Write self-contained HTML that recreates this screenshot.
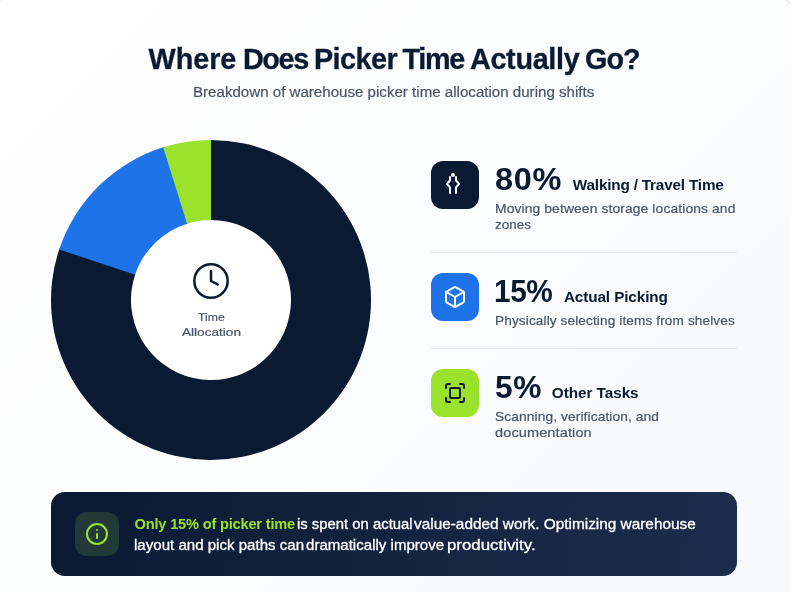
<!DOCTYPE html>
<html lang="en">
<head>
<meta charset="utf-8">
<title>Where Does Picker Time Actually Go?</title>
<style>
*{box-sizing:border-box;margin:0;padding:0}
html,body{width:791px;height:592px;overflow:hidden}
body{font-family:"Liberation Sans",sans-serif;background:linear-gradient(135deg,#ffffff 0%,#fcfdfe 45%,#f6f8fc 100%);position:relative;color:#0b1a33}
.donut{position:absolute;left:51px;top:140px}
.clock{position:absolute;left:191px;top:261px}
.ib{position:absolute;left:431px;width:48px;height:48px;border-radius:12px}
.ib svg{position:absolute;left:12px;top:12px}
.hr{position:absolute;left:431px;width:306px;height:1px;background:#e2e8f0}
.banner{position:absolute;left:51px;top:492px;width:686px;height:84px;border-radius:14px;background:linear-gradient(97deg,#0b1a33 0%,#1c2c4c 100%)}
.bi{position:absolute;left:24px;top:20px;width:44px;height:44px;border-radius:12px;background:#223a37}
.bi svg{position:absolute;left:10px;top:10px}
.t{position:absolute;white-space:nowrap;display:block;transform-origin:0 0}
</style>
</head>
<body>
<div style="position:absolute;left:694px;top:-3px;width:100px;height:100px;border-top:1px solid #dde3ee;border-right:1px solid #dde3ee;border-top-right-radius:16px"></div>
<div style="position:absolute;left:0;top:0;width:1px;height:1px;background:#e4e9f4"></div>

<svg class="donut" width="320" height="320" viewBox="0 0 320 320"><circle cx="160" cy="160" r="80.5" fill="#fff"/><path d="M160.00 0.00A160 160 0 1 1 8.72 107.91L84.36 133.95A80 80 0 1 0 160.00 80.00Z" fill="#0b1a33"/><path d="M8.18 109.50A160 160 0 0 1 113.75 6.83L136.88 83.41A80 80 0 0 0 84.09 134.75Z" fill="#1e73e8"/><path d="M112.15 7.32A160 160 0 0 1 160.00 0.00L160.00 80.00A80 80 0 0 0 136.08 83.66Z" fill="#9be22d"/></svg>
<svg class="clock" width="40" height="40" viewBox="0 0 24 24" fill="none" stroke="#0b1a33" stroke-width="1.5" stroke-linecap="round" stroke-linejoin="round"><circle cx="12" cy="12" r="10"/><path d="M12 6v6l4 2"/></svg>

<div class="ib" style="top:161px;background:#0b1a33">
  <svg width="24" height="24" viewBox="0 0 24 24" fill="none" stroke="#fff" stroke-width="2" stroke-linecap="round" stroke-linejoin="round"><circle cx="10" cy="2.1" r="1" fill="#fff"/><path d="M7 4.1v3.4l-3.1 3.4 3.1 3.4v5.6"/><path d="M13 4.1v3.4l3.1 3.4-3.1 3.4v5.6"/></svg>
</div>
<div class="hr" style="top:252px"></div>

<div class="ib" style="top:273px;background:#1e73e8">
  <svg width="24" height="24" viewBox="0 0 24 24" fill="none" stroke="#fff" stroke-width="2" stroke-linecap="round" stroke-linejoin="round"><path d="M21 8a2 2 0 0 0-1-1.73l-7-4a2 2 0 0 0-2 0l-7 4A2 2 0 0 0 3 8v8a2 2 0 0 0 1 1.73l7 4a2 2 0 0 0 2 0l7-4A2 2 0 0 0 21 16Z"/><path d="m3.3 7 8.7 5 8.7-5"/><path d="M12 22V12"/></svg>
</div>
<div class="hr" style="top:348px"></div>

<div class="ib" style="top:369px;background:#9be22d">
  <svg width="24" height="24" viewBox="0 0 24 24" fill="none" stroke="#0b1a33" stroke-width="2" stroke-linecap="round" stroke-linejoin="round"><path d="M3 7V5a2 2 0 0 1 2-2h2"/><path d="M17 3h2a2 2 0 0 1 2 2v2"/><path d="M21 17v2a2 2 0 0 1-2 2h-2"/><path d="M7 21H5a2 2 0 0 1-2-2v-2"/><rect x="7" y="7" width="10" height="10" rx="1"/></svg>
</div>

<div class="banner">
  <div class="bi"><svg width="24" height="24" viewBox="0 0 24 24" fill="none" stroke="#9be22d" stroke-width="2" stroke-linecap="round" stroke-linejoin="round"><circle cx="12" cy="12" r="10"/><path d="M12 16v-4"/><path d="M12 8h.01"/></svg></div>
</div>
<h1>
<span class="t" id="t1" style="left:148.62px;top:41.82px;font-size:28.8px;line-height:35px;font-weight:700;color:#0b1a33;letter-spacing:-0.057px;-webkit-text-stroke:0.3px #0b1a33;">Where</span>
<span class="t" id="t2" style="left:242.90px;top:41.82px;font-size:28.8px;line-height:35px;font-weight:700;color:#0b1a33;letter-spacing:-1.357px;-webkit-text-stroke:0.3px #0b1a33;">Does</span>
<span class="t" id="t3" style="left:313.90px;top:41.82px;font-size:28.8px;line-height:35px;font-weight:700;color:#0b1a33;letter-spacing:-0.554px;-webkit-text-stroke:0.3px #0b1a33;">Picker</span>
<span class="t" id="t4" style="left:402.44px;top:41.82px;font-size:28.8px;line-height:35px;font-weight:700;color:#0b1a33;letter-spacing:-1.260px;-webkit-text-stroke:0.3px #0b1a33;">Time</span>
<span class="t" id="t5" style="left:469.94px;top:41.82px;font-size:28.8px;line-height:35px;font-weight:700;color:#0b1a33;letter-spacing:-0.315px;-webkit-text-stroke:0.3px #0b1a33;">Actually</span>
<span class="t" id="t6" style="left:584.97px;top:41.82px;font-size:28.8px;line-height:35px;font-weight:700;color:#0b1a33;letter-spacing:-0.980px;-webkit-text-stroke:0.3px #0b1a33;">Go?</span>
</h1>
<p>
<span class="t" id="s1" style="left:193.00px;top:82.71px;font-size:14.7px;line-height:18px;font-weight:400;color:#475569;letter-spacing:0.000px;transform:scaleX(1.0282);-webkit-text-stroke:0.2px #475569;">Breakdown of warehouse picker time allocation during shifts</span>
</p>
<div>
<span class="t" id="c1" style="left:198.00px;top:309.55px;font-size:11.7px;line-height:14px;font-weight:400;color:#475569;letter-spacing:0.000px;transform:scaleX(1.0442);-webkit-text-stroke:0.2px #475569;">Time</span>
<span class="t" id="c2" style="left:182.00px;top:324.55px;font-size:11.7px;line-height:14px;font-weight:400;color:#475569;letter-spacing:0.000px;transform:scaleX(1.1638);-webkit-text-stroke:0.2px #475569;">Allocation</span>
</div>
<div>
<span class="t" id="p1" style="left:495.00px;top:160.76px;font-size:31px;line-height:37px;font-weight:700;color:#0b1a33;letter-spacing:0.600px;transform:scaleX(1.0475);">80%</span>
<span class="t" id="h1" style="left:572.84px;top:176.10px;font-size:15.3px;line-height:18px;font-weight:700;color:#0b1a33;letter-spacing:-0.187px;">Walking / Travel Time</span>
<span class="t" id="d1" style="left:495.00px;top:200.96px;font-size:12.8px;line-height:15px;font-weight:400;color:#475569;letter-spacing:0.100px;transform:scaleX(1.0832);-webkit-text-stroke:0.2px #475569;">Moving between storage locations and</span>
<span class="t" id="d1b" style="left:495.00px;top:216.96px;font-size:12.8px;line-height:15px;font-weight:400;color:#475569;letter-spacing:0.100px;transform:scaleX(1.0419);-webkit-text-stroke:0.2px #475569;">zones</span>
</div>
<div>
<span class="t" id="p2" style="left:494.00px;top:272.76px;font-size:31px;line-height:37px;font-weight:700;color:#0b1a33;letter-spacing:-0.400px;transform:scaleX(0.9605);">15%</span>
<span class="t" id="h2" style="left:563.93px;top:288.10px;font-size:15.3px;line-height:18px;font-weight:700;color:#0b1a33;letter-spacing:-0.112px;">Actual Picking</span>
<span class="t" id="d2" style="left:495.00px;top:312.96px;font-size:12.8px;line-height:15px;font-weight:400;color:#475569;letter-spacing:0.100px;transform:scaleX(1.0658);-webkit-text-stroke:0.2px #475569;">Physically selecting items from shelves</span>
</div>
<div>
<span class="t" id="p3" style="left:495.00px;top:368.76px;font-size:31px;line-height:37px;font-weight:700;color:#0b1a33;letter-spacing:0.600px;transform:scaleX(1.0219);">5%</span>
<span class="t" id="h3" style="left:551.82px;top:384.10px;font-size:15.3px;line-height:18px;font-weight:700;color:#0b1a33;letter-spacing:-0.050px;">Other Tasks</span>
<span class="t" id="d3" style="left:495.00px;top:408.96px;font-size:12.8px;line-height:15px;font-weight:400;color:#475569;letter-spacing:0.100px;transform:scaleX(1.0740);-webkit-text-stroke:0.2px #475569;">Scanning, verification, and</span>
<span class="t" id="d3b" style="left:495.00px;top:424.96px;font-size:12.8px;line-height:15px;font-weight:400;color:#475569;letter-spacing:0.100px;transform:scaleX(1.1351);-webkit-text-stroke:0.2px #475569;">documentation</span>
</div>
<p>
<span class="t" id="b1" style="left:134.55px;top:514.84px;font-size:14.6px;line-height:18px;font-weight:700;color:#9be22d;letter-spacing:-0.182px;">Only 15% of picker time</span>
<span class="t" id="b2a" style="left:297.00px;top:514.84px;font-size:14.6px;line-height:18px;font-weight:400;color:#fff;letter-spacing:0.000px;transform:scaleX(1.0183);-webkit-text-stroke:0.3px #fff;">is spent on actual</span>
<span class="t" id="b2b" style="left:414.00px;top:514.84px;font-size:14.6px;line-height:18px;font-weight:400;color:#fff;letter-spacing:0.000px;transform:scaleX(1.0525);-webkit-text-stroke:0.3px #fff;">value-added work. Optimizing warehouse</span>
<span class="t" id="b3a" style="left:134.00px;top:535.74px;font-size:14.6px;line-height:18px;font-weight:400;color:#fff;letter-spacing:0.000px;transform:scaleX(1.0324);-webkit-text-stroke:0.3px #fff;">layout and pick paths can</span>
<span class="t" id="b3b" style="left:306.00px;top:535.74px;font-size:14.6px;line-height:18px;font-weight:400;color:#fff;letter-spacing:0.000px;transform:scaleX(1.0320);-webkit-text-stroke:0.3px #fff;">dramatically improve</span>
<span class="t" id="b3c" style="left:447.00px;top:535.74px;font-size:14.6px;line-height:18px;font-weight:400;color:#fff;letter-spacing:0.000px;transform:scaleX(1.1540);-webkit-text-stroke:0.3px #fff;">productivity.</span>
</p>
</body>
</html>
